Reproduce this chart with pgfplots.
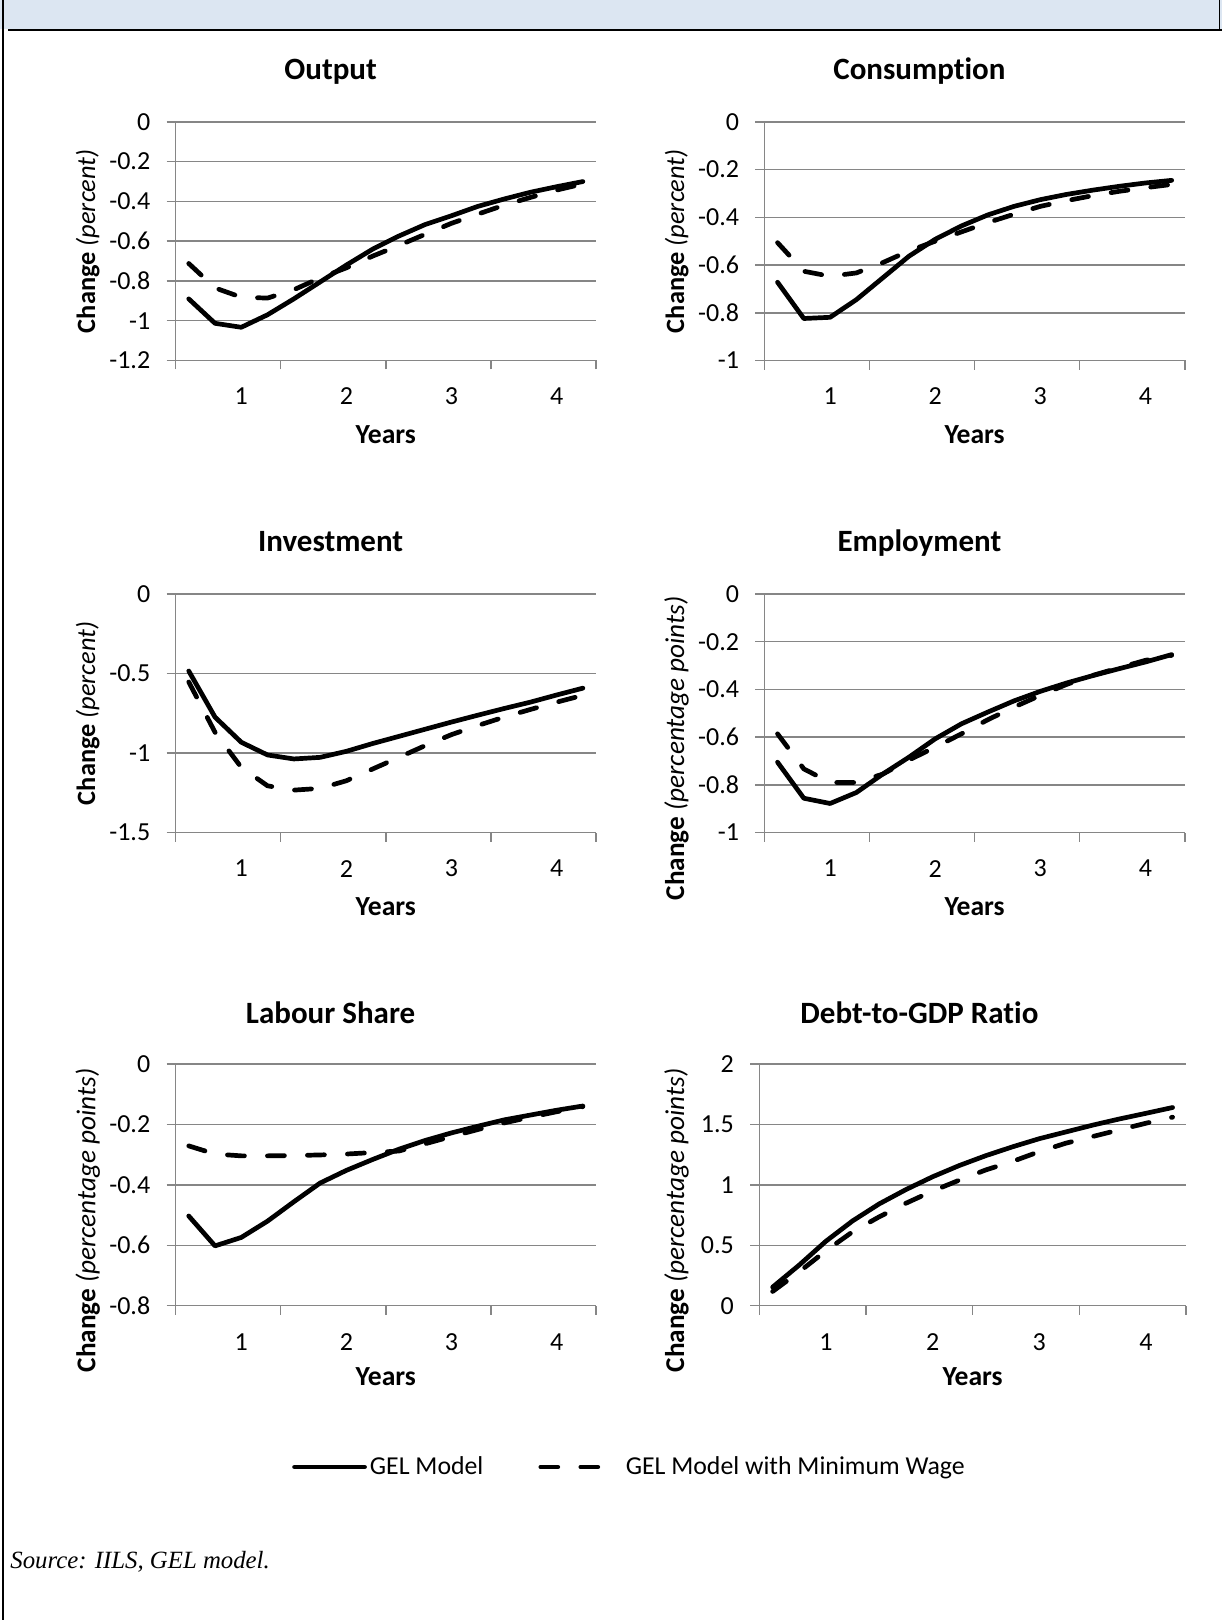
\documentclass[border=0pt]{standalone}
\usepackage{fontspec}
\setmainfont{Carlito}[Ligatures=NoCommon]
\newfontfamily\srcfont{Liberation Serif}
\usepackage{pgfplots}
\pgfplotsset{compat=1.18}
\definecolor{gridgray}{RGB}{134,134,134}
\definecolor{bandblue}{RGB}{220,230,242}
\pgfplotsset{
  gelaxis/.style={
    scale only axis, width=210.2pt, height=119.3pt, anchor=north west,
    xmin=0.5, xmax=16.5,
    axis x line*=bottom, axis y line*=left,
    axis line style={draw=gridgray, line width=0.75pt},
    xtick={0.5,4.5,8.5,12.5,16.5}, xticklabels={},
    extra x ticks={3,7,11,15}, extra x tick labels={1,2,3,4},
    extra x tick style={major tick length=0pt, grid=none},
    xticklabel style={anchor=center, inner sep=0pt, yshift=-18pt},
    yticklabel style={anchor=east, inner sep=0pt, xshift=-8pt},
    ymajorgrids, major grid style={draw=gridgray, line width=0.75pt},
    tick align=outside, major tick length=4.5pt,
    tick style={draw=gridgray, line width=0.75pt},
    tick label style={font=\fontsize{13}{15}\selectfont},
    /pgf/number format/assume math mode=true,
    label style={font=\fontsize{13.8}{16}\selectfont},
    xlabel={\textbf{Years}},
    xlabel style={at={(axis description cs:0.5,-0.312)}, anchor=center},
    ylabel style={anchor=center},
    clip=false,
  },
  pctlabel/.style={ylabel={\textbf{Change} \textit{(percent)}},
    ylabel style={at={(axis description cs:-0.2088,0.5)}, font=\fontsize{13.2}{16}\selectfont}},
  pplabel/.style={ylabel={\textbf{Change} \textit{(percentage points)}},
    ylabel style={at={(axis description cs:#1,0.353)}, font=\fontsize{13.6}{16}\selectfont}},
}
\tikzset{
  solidl/.style={black, line width=2.35pt, line cap=round, line join=round},
  dashl/.style={black, line width=2.35pt, line cap=round, line join=round, dash pattern=on 8.5pt off 11.5pt},
}
\begin{document}
\begin{tikzpicture}
\useasboundingbox (0,0) rectangle (611pt,-810pt);
\fill[bandblue] (0,0) rectangle (611pt,-14.6pt);
\draw[black, line width=1.1pt] (4pt,-14.9pt) -- (611pt,-14.9pt);
\draw[black, line width=0.8pt] (1.6pt,0) -- (1.6pt,-810pt);
\draw[black, line width=0.8pt] (609.8pt,0) -- (609.8pt,-15pt);

% titles
\begin{scope}[every node/.style={font=\fontsize{15.5}{18}\selectfont\bfseries, anchor=base}]
\node at (165.3pt,-40pt) {Output};
\node at (459.7pt,-40pt) {Consumption};
\node at (165.3pt,-275.7pt) {Investment};
\node at (459.7pt,-275.7pt) {Employment};
\node at (165.3pt,-511.7pt) {Labour Share};
\node at (459.7pt,-511.7pt) {Debt-to-GDP Ratio};
\end{scope}

% Output
\begin{axis}[gelaxis, pctlabel, at={(87.8pt,-60.95pt)}, ymin=-1.2, ymax=0,
  ytick={-1.2,-1,-0.8,-0.6,-0.4,-0.2,0}, yticklabels={-1.2,-1,-0.8,-0.6,-0.4,-0.2,0}]
\addplot[solidl] coordinates {(1,-0.89)(2,-1.013)(3,-1.033)(4,-0.97)(5,-0.89)(6,-0.805)(7,-0.72)(8,-0.64)(9,-0.574)(10,-0.516)(11,-0.472)(12,-0.425)(13,-0.388)(14,-0.354)(15,-0.326)(16,-0.30)};
\addplot[dashl] coordinates {(1,-0.712)(2,-0.835)(3,-0.882)(4,-0.886)(5,-0.844)(6,-0.785)(7,-0.734)(8,-0.675)(9,-0.621)(10,-0.565)(11,-0.51)(12,-0.464)(13,-0.419)(14,-0.38)(15,-0.343)(16,-0.312)};
\end{axis}

% Consumption
\begin{axis}[gelaxis, pctlabel, at={(382.2pt,-60.95pt)}, ymin=-1, ymax=0,
  ytick={-1,-0.8,-0.6,-0.4,-0.2,0}, yticklabels={-1,-0.8,-0.6,-0.4,-0.2,0}]
\addplot[solidl] coordinates {(1,-0.672)(2,-0.824)(3,-0.819)(4,-0.745)(5,-0.654)(6,-0.563)(7,-0.492)(8,-0.436)(9,-0.39)(10,-0.354)(11,-0.326)(12,-0.304)(13,-0.286)(14,-0.27)(15,-0.256)(16,-0.245)};
\addplot[dashl] coordinates {(1,-0.506)(2,-0.626)(3,-0.647)(4,-0.633)(5,-0.59)(6,-0.541)(7,-0.5)(8,-0.461)(9,-0.422)(10,-0.387)(11,-0.354)(12,-0.33)(13,-0.309)(14,-0.291)(15,-0.276)(16,-0.262)};
\end{axis}

% Investment
\begin{axis}[gelaxis, pctlabel, at={(87.8pt,-297pt)}, ymin=-1.5, ymax=0,
  ytick={-1.5,-1,-0.5,0}, yticklabels={-1.5,-1,-0.5,0}]
\addplot[solidl] coordinates {(1,-0.484)(2,-0.774)(3,-0.932)(4,-1.012)(5,-1.037)(6,-1.027)(7,-0.989)(8,-0.94)(9,-0.895)(10,-0.85)(11,-0.805)(12,-0.762)(13,-0.72)(14,-0.68)(15,-0.635)(16,-0.592)};
\addplot[dashl] coordinates {(1,-0.553)(2,-0.869)(3,-1.09)(4,-1.206)(5,-1.233)(6,-1.222)(7,-1.174)(8,-1.1)(9,-1.027)(10,-0.953)(11,-0.884)(12,-0.827)(13,-0.774)(14,-0.726)(15,-0.68)(16,-0.637)};
\end{axis}

% Employment
\begin{axis}[gelaxis, pplabel=-0.2088, at={(382.2pt,-297pt)}, ymin=-1, ymax=0,
  ytick={-1,-0.8,-0.6,-0.4,-0.2,0}, yticklabels={-1,-0.8,-0.6,-0.4,-0.2,0}]
\addplot[solidl] coordinates {(1,-0.705)(2,-0.856)(3,-0.878)(4,-0.832)(5,-0.755)(6,-0.684)(7,-0.607)(8,-0.544)(9,-0.495)(10,-0.448)(11,-0.408)(12,-0.373)(13,-0.342)(14,-0.313)(15,-0.285)(16,-0.254)};
\addplot[dashl] coordinates {(1,-0.586)(2,-0.733)(3,-0.79)(4,-0.79)(5,-0.755)(6,-0.696)(7,-0.642)(8,-0.586)(9,-0.527)(10,-0.474)(11,-0.425)(12,-0.379)(13,-0.341)(14,-0.309)(15,-0.278)(16,-0.257)};
\end{axis}

% Labour Share
\begin{axis}[gelaxis, pplabel=-0.2088, at={(87.8pt,-532pt)}, height=120.85pt, ymin=-0.8, ymax=0,
  ytick={-0.8,-0.6,-0.4,-0.2,0}, yticklabels={-0.8,-0.6,-0.4,-0.2,0},
  xlabel style={at={(axis description cs:0.5,-0.295)}}]
\addplot[solidl] coordinates {(1,-0.503)(2,-0.602)(3,-0.574)(4,-0.52)(5,-0.456)(6,-0.394)(7,-0.352)(8,-0.316)(9,-0.282)(10,-0.253)(11,-0.228)(12,-0.206)(13,-0.185)(14,-0.169)(15,-0.153)(16,-0.139)};
\addplot[dashl] coordinates {(1,-0.271)(2,-0.298)(3,-0.304)(4,-0.304)(5,-0.303)(6,-0.301)(7,-0.298)(8,-0.293)(9,-0.288)(10,-0.264)(11,-0.24)(12,-0.217)(13,-0.195)(14,-0.176)(15,-0.158)(16,-0.141)};
\end{axis}

% Debt-to-GDP
\begin{axis}[gelaxis, pplabel=-0.1939, at={(379.65pt,-532pt)}, width=213.3pt, height=120.85pt, ymin=0, ymax=2,
  ytick={0,0.5,1,1.5,2}, yticklabels={0,0.5,1,1.5,2},
  xlabel style={at={(axis description cs:0.5,-0.295)}}]
\addplot[solidl] coordinates {(1,0.154)(2,0.337)(3,0.534)(4,0.702)(5,0.843)(6,0.961)(7,1.067)(8,1.16)(9,1.242)(10,1.315)(11,1.382)(12,1.438)(13,1.494)(14,1.545)(15,1.592)(16,1.64)};
\addplot[dashl] coordinates {(1,0.118)(2,0.281)(3,0.455)(4,0.612)(5,0.736)(6,0.848)(7,0.949)(8,1.039)(9,1.124)(10,1.194)(11,1.275)(12,1.345)(13,1.40)(14,1.455)(15,1.51)(16,1.56)};
\end{axis}

% legend
\begin{axis}[hide axis, scale only axis, width=10pt, height=10pt, anchor=center,
  at={(315pt,-733.5pt)}, xmin=0, xmax=1, ymin=0, ymax=1,
  legend columns=2,
  legend style={at={(0.5,0.5)}, anchor=center, draw=none, fill=none,
    font=\fontsize{12.9}{15}\selectfont, nodes={inner xsep=1.5pt},
    /tikz/every even column/.append style={column sep=26pt}}]
\addlegendimage{legend image code/.code={\draw[black, line width=2.35pt, line cap=round] (0pt,0pt) -- (35pt,0pt);}}
\addlegendentry{GEL Model}
\addlegendimage{legend image code/.code={\draw[black, line width=2.35pt, line cap=round, dash pattern=on 8.5pt off 11.5pt] (0pt,0pt) -- (29pt,0pt); \path[draw=none] (0pt,0pt) rectangle (41pt,0.1pt);}}
\addlegendentry{GEL Model with Minimum Wage}
\end{axis}

\node[anchor=base west, inner sep=0pt, font=\srcfont\itshape\fontsize{12.4}{15}\selectfont] at (5pt,-784pt) {Source: IILS, GEL model.};
\end{tikzpicture}
\end{document}
